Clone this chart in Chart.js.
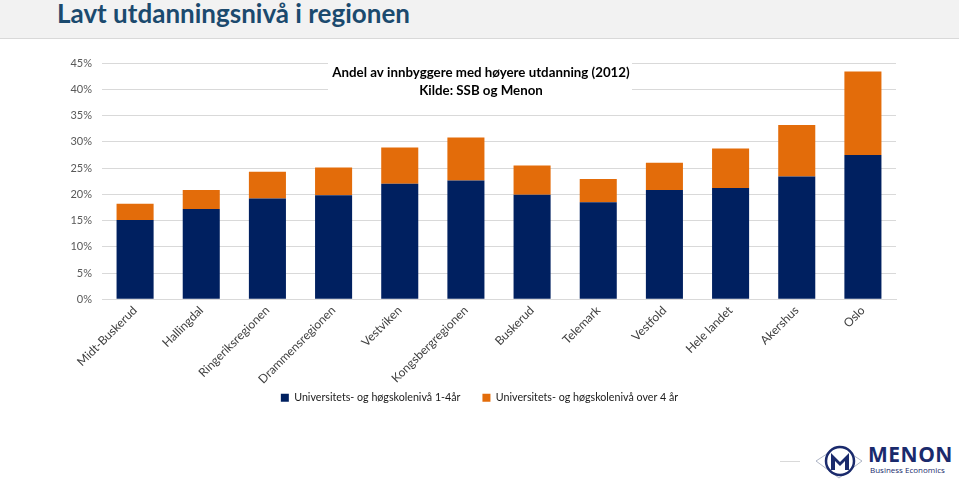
<!DOCTYPE html>
<html>
<head>
<meta charset="utf-8">
<script src="https://cdn.jsdelivr.net/npm/chart.js@4"></script>
<style>
  html,body{margin:0;padding:0;background:#fff;width:959px;height:480px;overflow:hidden;font-family:Lato,"Open Sans",sans-serif;}
  #header{position:absolute;left:0;top:0;width:959px;height:38px;background:#f2f2f2;border-bottom:1px solid #d9d9d9;}
  #header h1{margin:0;position:absolute;left:57px;top:-3px;font-size:26px;line-height:32px;font-weight:700;color:#1b4a6e;font-family:Lato,"Open Sans",sans-serif;}
  #wrap{position:absolute;left:0;top:40px;width:959px;height:400px;}
  #logo{position:absolute;left:780px;top:440px;width:179px;height:40px;}
  #logo .line{position:absolute;left:0;top:21px;width:20px;height:1px;background:#d9d9d9;}
  #logo .name{position:absolute;left:88px;top:3px;font:700 21px/22px "Open Sans",sans-serif;color:#1a2a6c;letter-spacing:0.5px;}
  #logo .sub{position:absolute;left:90px;top:25px;font:8px/9px "Open Sans",sans-serif;color:#1a2a6c;}
</style>
</head>
<body>
<div id="header"><h1>Lavt utdanningsnivå i regionen</h1></div>
<div id="wrap"><canvas id="c"></canvas></div>
<div id="logo">
  <div class="line"></div>
  <svg style="position:absolute;left:32px;top:2px" width="54" height="38" viewBox="0 0 54 38">
    <polygon points="4,19 27,4 50,19 27,36" fill="none" stroke="#9aa3b8" stroke-width="0.8"/>
    <circle cx="28" cy="19" r="14" fill="#fff" stroke="#1a2a6c" stroke-width="2.5"/>
    <path d="M19,28 L19,11 L28,20 L37,11 L37,28 L33,28 L33,19 L28,24 L23,19 L23,28 Z" fill="#1a2a6c"/>
  </svg>
  <div class="name">MENON</div>
  <div class="sub">Business Economics</div>
</div>
<script>
const categories = ["Midt-Buskerud","Hallingdal","Ringeriksregionen","Drammensregionen","Vestviken","Kongsbergregionen","Buskerud","Telemark","Vestfold","Hele landet","Akershus","Oslo"];
const seriesNames = ["Universitets- og høgskolenivå 1-4år","Universitets- og høgskolenivå over 4 år"];
const shortEdu = [15.1,17.2,19.2,19.8,22.0,22.6,19.9,18.5,20.8,21.2,23.4,27.5];
const longEdu = [3.1,3.6,5.1,5.3,6.9,8.2,5.6,4.4,5.2,7.5,9.8,15.9];
const yTicks = [0,5,10,15,20,25,30,35,40,45];
const chartTitle = ["Andel av innbyggere med høyere utdanning (2012)","Kilde: SSB og Menon"];

const innerTitle = {
  id:'innerTitle',
  beforeDatasetsDraw(chart){
    const ctx = chart.ctx;
    ctx.save();
    ctx.fillStyle = '#ffffff';
    ctx.fillRect(328, 18, 304, 42);
    ctx.fillStyle = '#000000';
    ctx.font = '700 13.3px Lato, "Open Sans", sans-serif';
    ctx.textAlign = 'center';
    ctx.textBaseline = 'middle';
    ctx.fillText(chartTitle[0], 481, 33);
    ctx.fillText(chartTitle[1], 481, 51);
    ctx.restore();
  }
};

new Chart(document.getElementById('c'), {
  type:'bar',
  data:{
    labels:categories,
    datasets:[
      {label:seriesNames[0], data:shortEdu, backgroundColor:'#002060', barPercentage:0.56, categoryPercentage:1.0},
      {label:seriesNames[1], data:longEdu, backgroundColor:'#e36c0a', barPercentage:0.56, categoryPercentage:1.0}
    ]
  },
  options:{
    responsive:true, maintainAspectRatio:false, animation:false,
    layout:{padding:{left:0,right:0,top:23,bottom:27}},
    plugins:{
      legend:{position:'bottom',
        labels:{boxWidth:8,boxHeight:8,padding:22,color:'#1a1a1a',font:{size:10.7,family:'Lato, "Open Sans", sans-serif'}}},
      tooltip:{enabled:false}
    },
    scales:{
      x:{stacked:true,
        grid:{display:false,drawTicks:false},
        border:{color:'#d9d9d9'},
        ticks:{minRotation:45,maxRotation:45,color:'#404040',padding:4,font:{size:12,family:'Lato, "Open Sans", sans-serif'}},
        afterFit(s){s.height=71; s._computeLabelArea = () => undefined;}
      },
      y:{stacked:true,min:0,max:45,
        afterBuildTicks(s){s.ticks=yTicks.map(v=>({value:v}));},
        grid:{color:'#d9d9d9',drawTicks:false},
        border:{display:false},
        ticks:{padding:10,color:'#595959',font:{size:11,family:'Lato, "Open Sans", sans-serif'},callback:v=>v+'%'},
        afterFit(s){s.width=102;}
      },
      yRight:{position:'right',min:0,max:45,
        grid:{display:false,drawOnChartArea:false},
        border:{display:false},
        ticks:{display:false},
        afterFit(s){s.width=63;}
      }
    }
  },
  plugins:[innerTitle]
});
</script>
</body>
</html>
